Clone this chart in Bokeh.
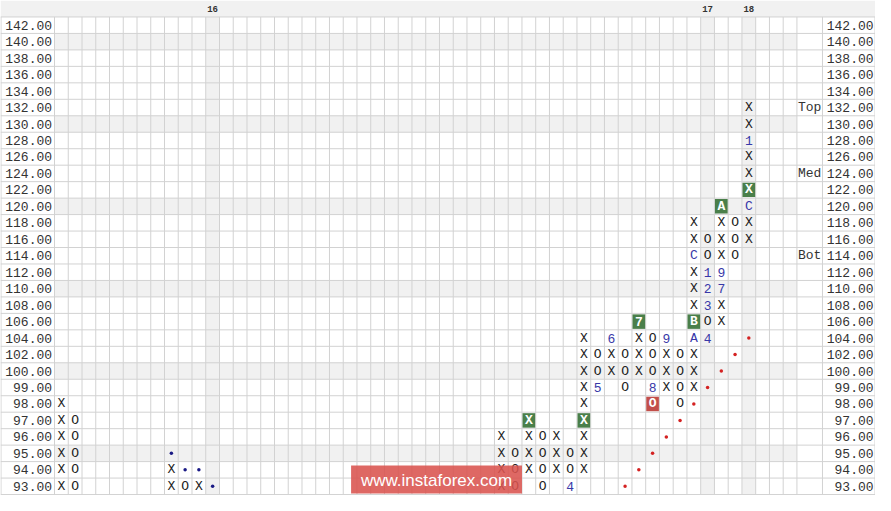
from bokeh.plotting import figure
from bokeh.models import Range1d, ColumnDataSource
from bokeh.core.properties import value
from bokeh.embed import file_html
from bokeh.resources import INLINE

# ---------------- data ----------------
prices = [142, 140, 138, 136, 134, 132, 130, 128, 126, 124, 122, 120, 118, 116,
          114, 112, 110, 108, 106, 104, 102, 100, 99, 98, 97, 96, 95, 94, 93]
n_cols = 54

# plain X boxes per column
x_boxes = {
    0: [93, 94, 95, 96, 97, 98],
    8: [93, 94],
    10: [93],
    32: [93, 94, 95, 96],
    34: [94, 95, 96],
    36: [94, 95, 96],
    38: [94, 95, 96, 98, 99, 100, 102, 104],
    40: [100, 102],
    42: [100, 102, 104],
    44: [99, 100, 102],
    46: [99, 100, 102, 108, 110, 112, 116, 118],
    48: [106, 108, 114, 116, 118],
    50: [116, 118, 124, 126, 130, 132],
}
# plain O boxes per column
o_boxes = {
    1: [93, 94, 95, 96, 97],
    9: [93],
    33: [93, 94, 95],
    35: [93, 94, 95, 96],
    37: [94, 95],
    39: [100, 102],
    41: [99, 100, 102],
    43: [100, 102, 104],
    45: [98, 99, 100, 102],
    47: [106, 114, 116],
    49: [114, 116, 118],
}
# month markers (blue)
month_col = [37, 39, 40, 43, 44, 46, 46, 47, 47, 47, 47, 48, 48, 50, 50]
month_price = [93, 99, 104, 99, 104, 104, 114, 112, 110, 108, 104, 110, 112, 120, 128]
month_label = ["4", "5", "6", "8", "9", "A", "C", "1", "2", "3", "4", "7", "9", "C", "1"]
# highlighted boxes (green = buy signal)
green_col = [34, 38, 42, 46, 48, 50]
green_price = [97, 97, 106, 106, 120, 122]
green_label = ["X", "X", "7", "B", "A", "X"]
# highlighted boxes (red = sell signal)
red_col = [43]
red_price = [98]
red_label = ["O"]
# trend lines
blue_dot_col = [8, 9, 10, 11]
blue_dot_price = [95, 94, 94, 93]
red_dot_col = [41, 42, 43, 44, 45, 46, 47, 48, 49, 50]
red_dot_price = [93, 94, 95, 96, 97, 98, 99, 100, 102, 104]
# year markers
year_col = [11, 47, 50]
year_label = ["16", "17", "18"]
# level labels
level_label = ["Top", "Med", "Bot"]
level_price = [132, 124, 114]
# shaded rows
shaded_prices = [140, 130, 120, 110, 100, 95]

# ---------------- geometry (column / row units) ----------------
CW, RH = 14.0, 17.0           # reference pixel size of a cell
LEFT_PX, TOP_PX = 55.0, 17.0  # grid origin in reference pixels
W_PX, H_PX = 891.0, 511.0

def px_x(px):
    return (px - LEFT_PX) / CW

def px_y(py):
    return (py - TOP_PX) / RH

row_of = {p: i for i, p in enumerate(prices)}
n_rows = len(prices)

p = figure(width=875, height=495, output_backend="svg", toolbar_location=None,
           x_range=Range1d(px_x(0), px_x(W_PX)),
           y_range=Range1d(px_y(H_PX), px_y(0)),
           min_border=0, x_axis_type=None, y_axis_type=None,
           background_fill_color="white", border_fill_color="white")
p.outline_line_color = None
p.xgrid.visible = False
p.ygrid.visible = False

GRAY = "#f1f1f1"
LINE = "#d2d2d2"

# header band
p.quad(left=[px_x(0)], right=[px_x(W_PX)], top=[px_y(0)], bottom=[0],
       fill_color=GRAY, line_color=None)

# shaded rows (grid area only)
sr = [row_of[v] for v in shaded_prices]
p.quad(left=[0] * len(sr), right=[n_cols] * len(sr), top=sr, bottom=[r + 1 for r in sr],
       fill_color=GRAY, line_color=None)
# shaded year columns
p.quad(left=year_col, right=[c + 1 for c in year_col], top=[0] * len(year_col),
       bottom=[n_rows] * len(year_col), fill_color=GRAY, line_color=None)

# grid lines
hy = list(range(0, n_rows + 1))
p.segment(x0=[px_x(0)] * len(hy), x1=[px_x(W_PX)] * len(hy), y0=hy, y1=hy,
          line_color=LINE, line_width=1)
vx = [px_x(0.5)] + list(range(0, n_cols + 1)) + [px_x(837), px_x(890.5)]
p.segment(x0=vx, x1=vx, y0=[0] * len(vx), y1=[n_rows] * len(vx),
          line_color=LINE, line_width=1)

MONO = value("Liberation Mono")

# price labels left / right
ys = [row_of[v] + 0.5 for v in prices]
labels = [f"{v:.2f}" for v in prices]
p.text(x=[px_x(52.5)] * n_rows, y=ys, text=labels, text_font=MONO,
       text_font_size="13px", text_color="#333333", text_align="right",
       text_baseline="middle")
p.text(x=[px_x(889)] * n_rows, y=ys, text=labels, text_font=MONO,
       text_font_size="13px", text_color="#333333", text_align="right",
       text_baseline="middle")
# level labels
p.text(x=[px_x(824)] * 3, y=[row_of[v] + 0.5 for v in level_price], text=level_label,
       text_font=MONO, text_font_size="13px", text_color="#333333",
       text_align="center", text_baseline="middle")
# year labels
p.text(x=[c + 0.5 for c in year_col], y=[-0.5] * 3, text=year_label, text_font=MONO,
       text_font_size="9px", text_font_style="bold", text_color="#333333",
       text_align="center", text_baseline="middle")

# plain X / O marks
mx, my, mt = [], [], []
for c, lst in x_boxes.items():
    for v in lst:
        mx.append(c + 0.5); my.append(row_of[v] + 0.5); mt.append("X")
for c, lst in o_boxes.items():
    for v in lst:
        mx.append(c + 0.5); my.append(row_of[v] + 0.5); mt.append("O")
p.text(x=mx, y=my, text=mt, text_font=MONO, text_font_size="13px",
       text_color="#222222", text_align="center", text_baseline="middle")

# month markers
p.text(x=[c + 0.5 for c in month_col], y=[row_of[v] + 0.5 for v in month_price],
       text=month_label, text_font=MONO, text_font_size="13px", text_color="#3838a8",
       text_align="center", text_baseline="middle")

# signal boxes
gx = [c + 0.5 for c in green_col]
gy = [row_of[v] + 0.5 for v in green_price]
p.rect(x=gx, y=gy, width=0.92, height=0.88, fill_color="#4a7f4a", line_color=None)
p.text(x=gx, y=gy, text=green_label, text_font=MONO, text_font_size="13px",
       text_font_style="bold", text_color="white", text_align="center",
       text_baseline="middle")
rx = [c + 0.5 for c in red_col]
ry = [row_of[v] + 0.5 for v in red_price]
p.rect(x=rx, y=ry, width=0.92, height=0.88, fill_color="#c24f4a", line_color=None)
p.text(x=rx, y=ry, text=red_label, text_font=MONO, text_font_size="13px",
       text_font_style="bold", text_color="white", text_align="center",
       text_baseline="middle")

# trend-line dots
p.scatter(x=[c + 0.5 for c in blue_dot_col], y=[row_of[v] + 0.5 for v in blue_dot_price],
          size=3.5, marker="circle", fill_color="#1a1a85", line_color=None)
p.scatter(x=[c + 0.5 for c in red_dot_col], y=[row_of[v] + 0.5 for v in red_dot_price],
          size=3.5, marker="circle", fill_color="#d42222", line_color=None)

# watermark
p.quad(left=[px_x(357)], right=[px_x(531)], top=[px_y(480)], bottom=[px_y(509)],
       fill_color="#d9534f", fill_alpha=0.88, line_color=None)
p.text(x=[px_x(444)], y=[px_y(495)], text=["www.instaforex.com"],
       text_font=value("Liberation Sans"), text_font_size="17px", text_color="white",
       text_align="center", text_baseline="middle")

open("out.html", "w").write(file_html(p, INLINE))
